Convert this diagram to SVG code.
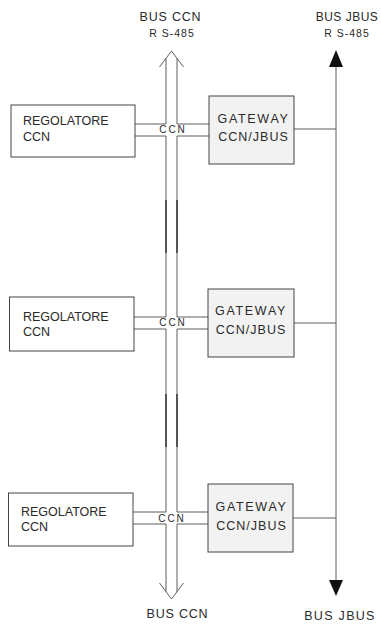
<svg xmlns="http://www.w3.org/2000/svg" width="381" height="625" viewBox="0 0 381 625">
<style>
.t{font-family:"Liberation Sans",Arial,sans-serif;fill:#2a2a2a}
.big{font-size:12.5px}
.lbl{font-size:10.5px;letter-spacing:1px}
.gw{font-size:12.5px;text-anchor:middle}
.small{font-size:10px;letter-spacing:2px;text-anchor:middle}
.box{fill:#fff;stroke:#444;stroke-width:1}
.gbox{fill:#f2f2f2;stroke:#444;stroke-width:1}
.ln{fill:none;stroke:#5e5e5e;stroke-width:1}
.dk{fill:none;stroke:#1a1a1a;stroke-width:1.2}
</style>
<g id="labels">
<text class="t big" x="170.5" y="21" text-anchor="middle" letter-spacing="0.8">BUS CCN</text>
<text class="t lbl" x="172" y="37" text-anchor="middle">R S-485</text>
<text class="t" x="347" y="21" font-size="12" text-anchor="middle" letter-spacing="0.5">BUS JBUS</text>
<text class="t lbl" x="347" y="37" text-anchor="middle">R S-485</text>
<text class="t big" x="177.5" y="618" text-anchor="middle" letter-spacing="0.8">BUS CCN</text>
<text class="t big" x="340" y="620" text-anchor="middle" letter-spacing="1.3">BUS JBUS</text>
</g>
<g id="connectors">
<polyline class="ln" points="159.5,67 171.5,51 183.5,67"/>
<line class="ln" x1="166" y1="58.3" x2="166" y2="124"/>
<line class="ln" x1="177" y1="58.3" x2="177" y2="124"/>
<line class="ln" x1="135" y1="124" x2="166" y2="124"/>
<line class="ln" x1="177" y1="124" x2="209" y2="124"/>
<line class="ln" x1="135" y1="136" x2="166" y2="136"/>
<line class="ln" x1="177" y1="136" x2="209" y2="136"/>
<line class="ln" x1="166" y1="136" x2="166" y2="317"/>
<line class="ln" x1="177" y1="136" x2="177" y2="317"/>
<line class="dk" x1="166" y1="200" x2="166" y2="253"/>
<line class="dk" x1="177" y1="200" x2="177" y2="253"/>
<line class="ln" x1="134" y1="317" x2="166" y2="317"/>
<line class="ln" x1="177" y1="317" x2="208" y2="317"/>
<line class="ln" x1="134" y1="329" x2="166" y2="329"/>
<line class="ln" x1="177" y1="329" x2="208" y2="329"/>
<line class="ln" x1="166" y1="329" x2="166" y2="512"/>
<line class="ln" x1="177" y1="329" x2="177" y2="512"/>
<line class="dk" x1="166" y1="394" x2="166" y2="447"/>
<line class="dk" x1="177" y1="394" x2="177" y2="447"/>
<line class="ln" x1="133" y1="512" x2="166" y2="512"/>
<line class="ln" x1="177" y1="512" x2="208" y2="512"/>
<line class="ln" x1="133" y1="524" x2="166" y2="524"/>
<line class="ln" x1="177" y1="524" x2="208" y2="524"/>
<line class="ln" x1="166" y1="524" x2="166" y2="591.7"/>
<line class="ln" x1="177" y1="524" x2="177" y2="591.7"/>
<polyline class="ln" points="159.5,583 171.5,599 183.5,583"/>
<line class="ln" x1="336" y1="60" x2="336" y2="585"/>
<polygon points="336,50 329,67 343,67" fill="#111"/>
<polygon points="336,596 329,580 343,580" fill="#111"/>
<line class="ln" x1="294" y1="129" x2="336" y2="129"/>
<line class="ln" x1="294" y1="323" x2="336" y2="323"/>
<line class="ln" x1="293" y1="518" x2="336" y2="518"/>
<text class="t small" x="173" y="132.5">CCN</text>
<text class="t small" x="173" y="326">CCN</text>
<text class="t small" x="172" y="522">CCN</text>
</g>
<g id="reg1">
<rect class="box" x="11" y="105" width="124" height="52"/>
<text class="t big" x="23" y="125">REGOLATORE</text>
<text class="t big" x="23" y="141">CCN</text>
</g>
<g id="gw1">
<rect class="gbox" x="209" y="96" width="85" height="68"/>
<text class="t gw" x="253.5" y="123" letter-spacing="1.7">GATEWAY</text>
<text class="t gw" x="253.5" y="141" letter-spacing="1">CCN/JBUS</text>
</g>
<g id="reg2">
<rect class="box" x="9.5" y="297" width="124.5" height="54"/>
<text class="t big" x="23" y="321">REGOLATORE</text>
<text class="t big" x="23" y="336">CCN</text>
</g>
<g id="gw2">
<rect class="gbox" x="208" y="289" width="86" height="68"/>
<text class="t gw" x="251" y="315" letter-spacing="1.7">GATEWAY</text>
<text class="t gw" x="251" y="334" letter-spacing="1">CCN/JBUS</text>
</g>
<g id="reg3">
<rect class="box" x="8.5" y="493" width="124.5" height="53"/>
<text class="t big" x="21" y="516">REGOLATORE</text>
<text class="t big" x="21" y="531">CCN</text>
</g>
<g id="gw3">
<rect class="gbox" x="208" y="484" width="85" height="68"/>
<text class="t gw" x="251.5" y="511" letter-spacing="1.7">GATEWAY</text>
<text class="t gw" x="251.5" y="530" letter-spacing="1">CCN/JBUS</text>
</g>
</svg>
